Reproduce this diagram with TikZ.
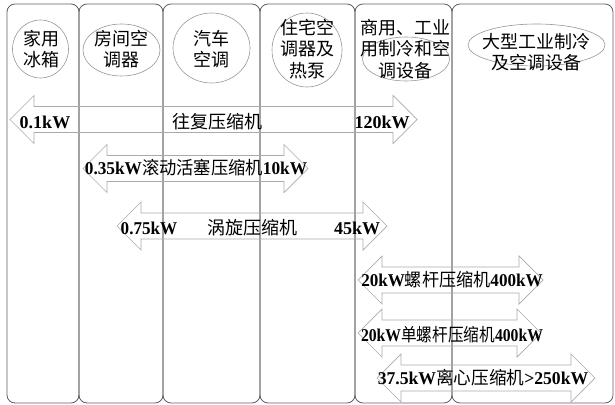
\documentclass[tikz,border=0pt]{standalone}
\usepackage{fontspec}
\setmainfont{Liberation Serif}
\newfontfamily\cjk{Noto Sans CJK SC}
\usetikzlibrary{shapes.geometric}
\newcommand{\zh}[1]{{\cjk\mdseries #1}}
\definecolor{colgray}{RGB}{95,95,95}
\definecolor{ellgray}{RGB}{150,150,150}
\definecolor{arrgray}{RGB}{170,170,170}
% double block arrow: #1 left tip x, #2 right tip x, #3 centre y
\newcommand{\dblarrow}[3]{%
  \draw[arrowline] (#1,#3) -- (#1+24,#3-24) -- (#1+24,#3-13) -- (#2-24,#3-13)
    -- (#2-24,#3-24) -- (#2,#3) -- (#2-24,#3+24) -- (#2-24,#3+13)
    -- (#1+24,#3+13) -- (#1+24,#3+24) -- cycle;}
\begin{document}
\begin{tikzpicture}[x=1pt,y=-1pt,
  col/.style={draw=colgray, line width=0.8pt, rounded corners=8pt, inner sep=0pt, minimum height=399pt},
  ell/.style={ellipse, draw=ellgray, line width=0.6pt, inner sep=0pt},
  lab/.style={font=\cjk\fontsize{18}{21.5}\selectfont, align=center, inner sep=0pt},
  val/.style={font=\fontsize{18}{21.5}\selectfont\bfseries, inner sep=0pt},
  arrowline/.style={draw=arrgray, line width=0.7pt, line join=miter}]
\useasboundingbox (0,0) rectangle (615,404);
% columns
\node[col, minimum width=72pt]  (c1) at (43,203.5) {};
\node[col, minimum width=84pt]  (c2) at (121,203.5) {};
\node[col, minimum width=97pt]  (c3) at (211.5,203.5) {};
\node[col, minimum width=95pt]  (c4) at (307.5,203.5) {};
\node[col, minimum width=97pt]  (c5) at (403.5,203.5) {};
\node[col, minimum width=161pt] (c6) at (532.5,203.5) {};
% ellipses
\node[ell, minimum width=56pt, minimum height=58pt] (e1) at (40.5,49) {};
\node[ell, minimum width=77pt, minimum height=52pt] (e2) at (121.5,50) {};
\node[ell, minimum width=77pt, minimum height=70pt] (e3) at (211.5,48) {};
\node[ell, minimum width=70pt, minimum height=74pt] (e4) at (307,50) {};
\node[ell, minimum width=87pt, minimum height=44pt] (e5) at (406,59) {};
\node[ell, minimum width=137pt, minimum height=42pt] (e6) at (536.5,45) {};
% category texts
\node[lab] (t1) at (41,49) {家用\\冰箱};
\node[lab] (t2) at (121,49) {房间空\\调器};
\node[lab] (t3) at (211,49) {汽车\\空调};
\node[lab] (t4) at (307,49) {住宅空\\调器及\\热泵};
\node[lab] (t5) at (405,49) {商用、工业\\用制冷和空\\调设备};
\node[lab] (t6) at (536,52) {大型工业制冷\\及空调设备};
% arrows
\dblarrow{10}{417}{119.5}
\dblarrow{83}{308}{168.5}
\dblarrow{117}{387}{226}
\dblarrow{358}{543}{280}
\dblarrow{358}{541}{333}
\dblarrow{377}{595}{378}
% arrow labels
\node[val] (a1l) at (45,122) {0.1kW};
\node[val] (a1m) at (217.5,122) {\zh{往复压缩机}};
\node[val] (a1r) at (382,122) {120kW};
\node[val] (a2) at (196,168) {\scalebox{0.96}[1]{0.35kW\zh{滚动活塞压缩机}10kW}};
\node[val] (a3l) at (149,228) {\scalebox{0.95}[1]{0.75kW}};
\node[val] (a3m) at (252,228) {\zh{涡旋压缩机}};
\node[val] (a3r) at (357,228) {45kW};
\node[val] (a4) at (452,280) {\scalebox{0.95}[1]{20kW\zh{螺杆压缩机}400kW}};
\node[val] (a5) at (452,335) {\scalebox{0.87}[1]{20kW\zh{单螺杆压缩机}400kW}};
\node[val] (a6) at (483,378) {\scalebox{0.98}[1]{37.5kW\zh{离心压缩机}>250kW}};
\end{tikzpicture}
\end{document}
